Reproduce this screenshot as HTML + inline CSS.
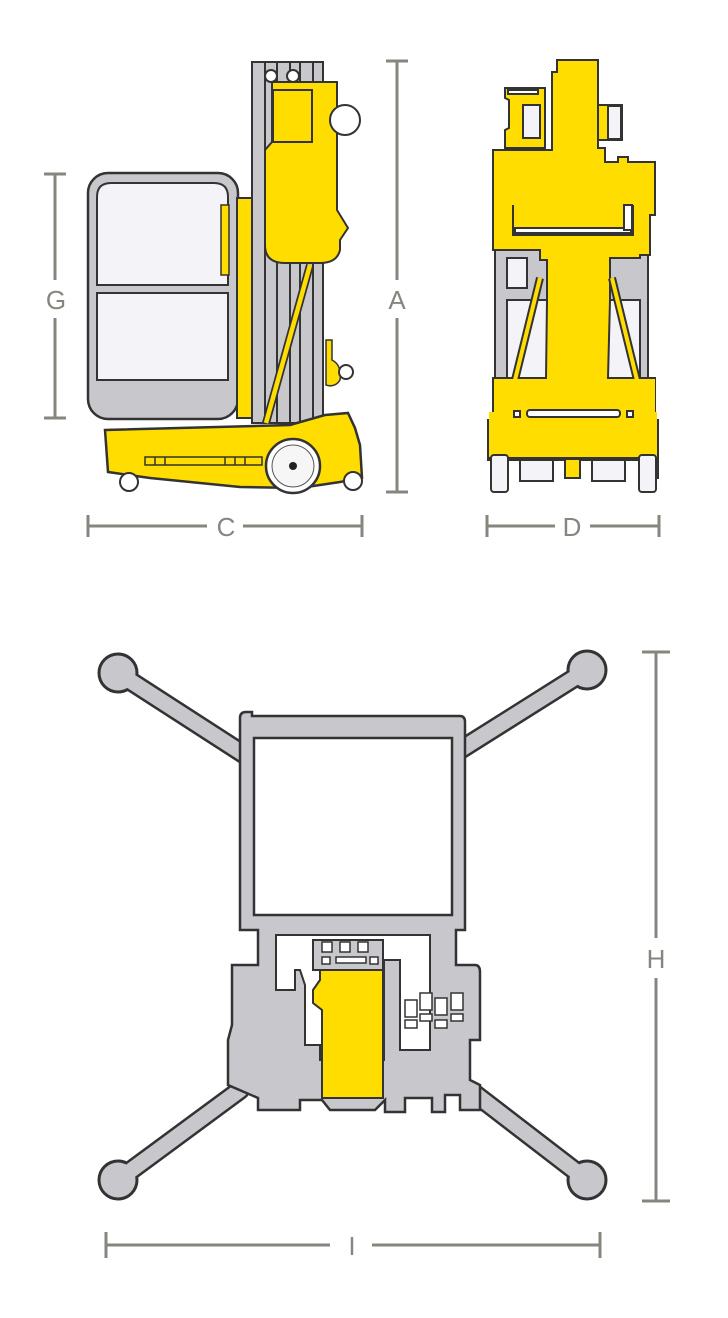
<!DOCTYPE html>
<html><head><meta charset="utf-8"><style>
html,body{margin:0;padding:0;background:#fff;}
svg{display:block;}
.dim{stroke:#85877f;stroke-width:3;fill:none;}
.lbl{font-family:"Liberation Sans",sans-serif;font-size:26px;fill:#85877f;text-anchor:middle;}
</style></head><body>
<svg width="728" height="1318" viewBox="0 0 728 1318" xmlns="http://www.w3.org/2000/svg">
<!-- ===== Side view ===== -->
<!-- cage -->
<rect x="88" y="173" width="150" height="246" rx="20" fill="#c8c8cc" stroke="#333" stroke-width="2.5"/>
<path d="M97 285 V197 Q97 183 111 183 H214 Q228 183 228 197 V285 Z" fill="#f3f3f8" stroke="#333" stroke-width="2"/>
<rect x="97" y="293" width="131" height="87" fill="#f3f3f8" stroke="#333" stroke-width="2"/>
<rect x="221" y="205" width="8" height="70" fill="#ffdd00" stroke="#333" stroke-width="1.5"/>
<!-- yellow strip -->
<rect x="237" y="198" width="15" height="220" fill="#ffdd00" stroke="#333" stroke-width="2"/>
<!-- mast -->
<rect x="252" y="62" width="71" height="361" fill="#c8c8cc" stroke="#333" stroke-width="2"/>
<g stroke="#333" stroke-width="2">
<line x1="265" y1="62" x2="265" y2="423"/><line x1="277" y1="62" x2="277" y2="423"/>
<line x1="290" y1="62" x2="290" y2="423"/><line x1="300" y1="62" x2="300" y2="423"/><line x1="313" y1="62" x2="313" y2="423"/>
</g>
<circle cx="271" cy="76" r="6" fill="#fff" stroke="#333" stroke-width="2"/>
<circle cx="293" cy="76" r="6" fill="#fff" stroke="#333" stroke-width="2"/>
<!-- carriage -->
<path d="M272 82 H337 V210 L348 228 L340 240 V250 Q337 263 320 263 H285 Q265 263 265 245 V150 L272 142 Z" fill="#ffdd00" stroke="#333" stroke-width="2"/>
<rect x="273" y="90" width="39" height="52" fill="#ffdd00" stroke="#333" stroke-width="2"/>
<circle cx="345" cy="120" r="15" fill="#fff" stroke="#333" stroke-width="2"/>
<!-- rod -->
<line x1="310" y1="265" x2="266" y2="423" stroke="#333" stroke-width="8"/>
<line x1="310" y1="265" x2="266" y2="423" stroke="#ffdd00" stroke-width="4.5"/>
<!-- knob -->
<path d="M326 340 H332 V360 Q342 365 340 380 Q335 388 326 385 Z" fill="#ffdd00" stroke="#333" stroke-width="1.5"/>
<circle cx="346" cy="372" r="7" fill="#fff" stroke="#333" stroke-width="2"/>
<!-- base -->
<path d="M105 430 L290 425 L325 415 L348 413 L355 428 L360 445 L362 478 L340 482 L300 488 L240 487 L150 478 L108 472 Z" fill="#ffdd00" stroke="#333" stroke-width="2.5"/>
<path d="M145 457 L262 457 L262 465 L145 465 Z" fill="#ffdd00" stroke="#333" stroke-width="1.5"/>
<g stroke="#333" stroke-width="1.5"><line x1="155" y1="457" x2="155" y2="465"/><line x1="165" y1="457" x2="165" y2="465"/><line x1="225" y1="457" x2="225" y2="465"/><line x1="235" y1="457" x2="235" y2="465"/><line x1="245" y1="457" x2="245" y2="465"/></g>
<circle cx="293" cy="466" r="27" fill="#fff" stroke="#333" stroke-width="2.5"/>
<circle cx="293" cy="466" r="21" fill="#f6f6f6" stroke="#555" stroke-width="1"/>
<circle cx="293" cy="466" r="4" fill="#222"/>
<circle cx="129" cy="482" r="9" fill="#fff" stroke="#333" stroke-width="2"/>
<circle cx="353" cy="481" r="9" fill="#fff" stroke="#333" stroke-width="2"/>

<!-- ===== Front view ===== -->
<g stroke="#333" stroke-width="2">
<!-- gray frame -->
<rect x="495" y="250" width="153" height="132" fill="#c8c8cc"/>
<rect x="507" y="300" width="133" height="80" fill="#f3f3f8"/>
<rect x="507" y="258" width="20" height="30" fill="#f3f3f8"/>
<!-- left bracket -->
<path d="M505 88 H545 V148 H505 V130 L509 128 V100 L505 98 Z" fill="#ffdd00"/>
<rect x="523" y="105" width="17" height="33" fill="#f3f3f8"/>
<rect x="508" y="90" width="30" height="4" fill="#fff"/>
<!-- right small box -->
<path d="M598 105 H622 V140 H598 Z" fill="#ffdd00"/>
<rect x="608" y="106" width="13" height="33" fill="#f3f3f8"/>
<!-- main body -->
<path d="M552 72 H557 V60 H598 V148 H605 V162 H618 V157 H628 V162 H640 V162 H655 V215 H650 V255 H640 V258 H610 V300 L608 378 L655 378 V412 H645 V420 H658 V460 H488 V420 H500 V412 H493 V378 L546 378 L547 300 V260 H540 V250 H493 V150 H552 Z" fill="#ffdd00"/>
<!-- inner slot -->
<path d="M513 205 V235 H633 V205" fill="none"/>
<rect x="515" y="228" width="116" height="5" fill="#fff"/>
<rect x="624" y="205" width="8" height="25" fill="#fff"/>
<!-- struts -->
<line x1="540" y1="278" x2="515" y2="380" stroke-width="8"/>
<line x1="612" y1="278" x2="637" y2="380" stroke-width="8"/>
</g>
<line x1="540" y1="278" x2="515" y2="380" stroke="#ffdd00" stroke-width="4"/>
<line x1="612" y1="278" x2="637" y2="380" stroke="#ffdd00" stroke-width="4"/>
<rect x="494" y="379" width="161" height="33" fill="#ffdd00"/>
<rect x="489" y="412" width="168" height="46" fill="#ffdd00"/>
<g stroke="#333" stroke-width="2">
<rect x="527" y="410" width="93" height="7" rx="3" fill="#fff"/>
<rect x="514" y="411" width="6" height="6" fill="#fff"/>
<rect x="627" y="411" width="6" height="6" fill="#fff"/>
<path d="M488 458 H658 V478 H640 V458" fill="#ffdd00"/>
<rect x="491" y="455" width="17" height="37" rx="3" fill="#f3f3f8"/>
<rect x="639" y="455" width="17" height="37" rx="3" fill="#f3f3f8"/>
<rect x="520" y="460" width="33" height="21" fill="#f3f3f8"/>
<rect x="592" y="460" width="33" height="21" fill="#f3f3f8"/>
<path d="M553 460 H565 V478 H580 V460 H592" fill="#ffdd00"/>
</g>

<!-- ===== Top view ===== -->
<g stroke="#333" stroke-linecap="round">
<line x1="118" y1="673" x2="245" y2="755" stroke-width="20"/>
<line x1="587" y1="670" x2="460" y2="750" stroke-width="20"/>
<line x1="118" y1="1180" x2="240" y2="1090" stroke-width="20"/>
<line x1="587" y1="1180" x2="470" y2="1090" stroke-width="20"/>
<circle cx="118" cy="673" r="20" fill="#333"/><circle cx="587" cy="670" r="20" fill="#333"/>
<circle cx="118" cy="1180" r="20" fill="#333"/><circle cx="587" cy="1180" r="20" fill="#333"/>
</g>
<g stroke="#c8c8cc" stroke-linecap="round">
<line x1="118" y1="673" x2="245" y2="755" stroke-width="15"/>
<line x1="587" y1="670" x2="460" y2="750" stroke-width="15"/>
<line x1="118" y1="1180" x2="240" y2="1090" stroke-width="15"/>
<line x1="587" y1="1180" x2="470" y2="1090" stroke-width="15"/>
</g>
<g fill="#c8c8cc">
<circle cx="118" cy="673" r="17.5"/><circle cx="587" cy="670" r="17.5"/>
<circle cx="118" cy="1180" r="17.5"/><circle cx="587" cy="1180" r="17.5"/>
</g>
<path d="M240 718 Q240 712 246 712 H252 V716 H460 Q465 716 465 722 V930 H456 V965 H475 Q480 965 480 972 V1040 H470 V1080 L480 1085 V1110 H460 V1095 H445 V1112 H432 V1098 H405 V1112 H385 V1100 L375 1110 H330 L322 1100 H300 V1110 H258 V1098 L228 1085 V1040 L232 1025 V965 H258 V930 H240 Z" fill="#c8c8cc" stroke="#333" stroke-width="2.5"/>
<rect x="254" y="738" width="198" height="177" fill="#fff" stroke="#333" stroke-width="2.5"/>
<path d="M276 935 H430 V1050 H400 V960 H384 V1060 H320 V1045 H305 V985 L300 970 H295 V990 H276 Z" fill="#fff" stroke="#333" stroke-width="2"/>
<rect x="313" y="940" width="70" height="30" fill="#c8c8cc" stroke="#333" stroke-width="2"/>
<g fill="#fff" stroke="#333" stroke-width="1.5">
<rect x="322" y="942" width="10" height="10"/><rect x="340" y="942" width="10" height="10"/><rect x="358" y="942" width="10" height="10"/>
<rect x="322" y="957" width="8" height="7"/><rect x="336" y="957" width="30" height="6"/><rect x="370" y="957" width="8" height="7"/>
</g>
<path d="M320 970 H383 V1098 H322 V1010 L313 1003 V990 L320 980 Z" fill="#ffdd00" stroke="#333" stroke-width="2"/>
<g fill="#fff" stroke="#333" stroke-width="1.5">
<rect x="405" y="1000" width="12" height="17"/><rect x="420" y="993" width="12" height="17"/><rect x="435" y="998" width="12" height="17"/><rect x="451" y="993" width="12" height="17"/>
<rect x="405" y="1020" width="12" height="8"/><rect x="420" y="1014" width="12" height="7"/><rect x="435" y="1020" width="12" height="8"/><rect x="451" y="1014" width="12" height="7"/>
</g>

<!-- ===== Dimensions ===== -->
<g class="dim">
<line x1="44" y1="174" x2="66" y2="174"/><line x1="44" y1="418" x2="66" y2="418"/>
<line x1="55" y1="174" x2="55" y2="280"/><line x1="55" y1="318" x2="55" y2="418"/>
<line x1="386" y1="61" x2="408" y2="61"/><line x1="386" y1="492" x2="408" y2="492"/>
<line x1="397" y1="61" x2="397" y2="280"/><line x1="397" y1="318" x2="397" y2="492"/>
<line x1="88" y1="515" x2="88" y2="537"/><line x1="362" y1="515" x2="362" y2="537"/>
<line x1="88" y1="526" x2="207" y2="526"/><line x1="243" y1="526" x2="362" y2="526"/>
<line x1="487" y1="515" x2="487" y2="537"/><line x1="659" y1="515" x2="659" y2="537"/>
<line x1="487" y1="526" x2="555" y2="526"/><line x1="590" y1="526" x2="659" y2="526"/>
<line x1="642" y1="652" x2="670" y2="652"/><line x1="642" y1="1201" x2="670" y2="1201"/>
<line x1="656" y1="652" x2="656" y2="938"/><line x1="656" y1="978" x2="656" y2="1201"/>
<line x1="106" y1="1232" x2="106" y2="1258"/><line x1="600" y1="1232" x2="600" y2="1258"/>
<line x1="106" y1="1245" x2="330" y2="1245"/><line x1="372" y1="1245" x2="600" y2="1245"/>
</g>
<text class="lbl" x="56" y="309">G</text>
<text class="lbl" x="397" y="309">A</text>
<text class="lbl" x="226" y="536">C</text>
<text class="lbl" x="572" y="536">D</text>
<text class="lbl" x="656" y="968">H</text>
<text class="lbl" x="352" y="1255">I</text>
</svg>
</body></html>
